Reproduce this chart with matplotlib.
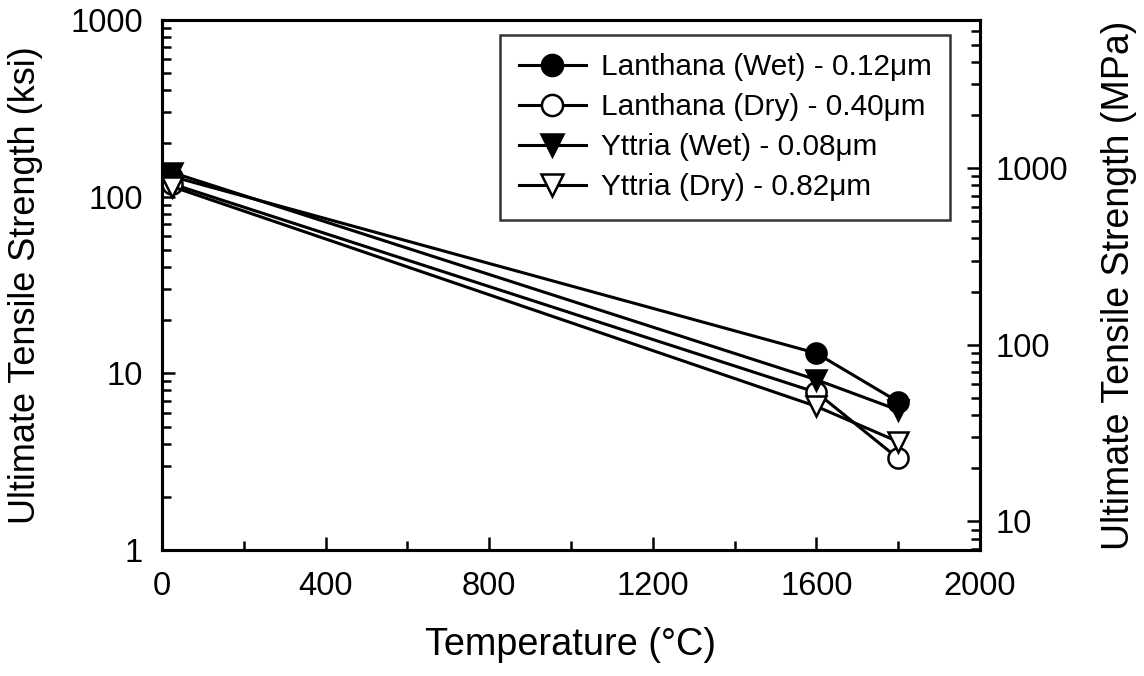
import matplotlib
matplotlib.use("Agg")
from matplotlib import pyplot as plt
from matplotlib.ticker import FixedLocator, LogLocator, NullFormatter

plt.rcParams['font.family'] = ['Liberation Sans', 'DejaVu Sans']

temps = [25, 1600, 1800]
lanthana_wet = [130, 13.0, 6.9]
lanthana_dry = [118, 7.8, 3.3]
yttria_wet = [137, 9.2, 6.2]
yttria_dry = [114, 6.5, 4.1]
labels = ["Lanthana (Wet) - 0.12\u03bcm", "Lanthana (Dry) - 0.40\u03bcm",
          "Yttria (Wet) - 0.08\u03bcm", "Yttria (Dry) - 0.82\u03bcm"]
KSI_TO_MPA = 6.895

fig = plt.figure(figsize=(11.44, 6.76), dpi=100)
ax = fig.add_axes([0.1416, 0.1864, 0.715, 0.784])

ms = 14.5
lw = 2.2
ax.plot(temps, lanthana_wet, 'o-', color='k', mfc='k', ms=ms, lw=lw, mew=1.8, label=labels[0])
ax.plot(temps, lanthana_dry, 'o-', color='k', mfc='white', ms=ms, lw=lw, mew=1.8, label=labels[1])
ax.plot(temps, yttria_wet, 'v-', color='k', mfc='k', ms=ms, lw=lw, mew=1.8, label=labels[2])
ax.plot(temps, yttria_dry, 'v-', color='k', mfc='white', ms=ms, lw=lw, mew=1.8, label=labels[3])

ax.set_yscale('log')
ax.set_ylim(1, 1000)
ax.set_xlim(0, 2000)
ax.set_xticks([0, 400, 800, 1200, 1600, 2000])
ax.xaxis.set_minor_locator(FixedLocator(range(200, 2000, 400)))
ax.set_yticks([1, 10, 100, 1000])
ax.set_yticklabels(['1', '10', '100', '1000'])
ax.yaxis.set_minor_locator(LogLocator(base=10, subs=range(2, 10)))
ax.yaxis.set_minor_formatter(NullFormatter())
ax.tick_params(which='both', direction='in', width=1.8, labelsize=23.5, right=False, top=False)
ax.tick_params(which='major', length=9.5)
ax.tick_params(which='minor', length=6.5)
ax.tick_params(axis='x', which='major', pad=15)
ax.tick_params(axis='y', which='major', pad=13.5)
for s in ax.spines.values():
    s.set_linewidth(2.2)

ax.set_xlabel("Temperature (\u00b0C)", fontsize=27.3, labelpad=18)
ax.set_ylabel("Ultimate Tensile Strength (ksi)", fontsize=26, labelpad=20)

ax2 = ax.twinx()
ax2.set_yscale('log')
ax2.set_ylim(1 * KSI_TO_MPA, 1000 * KSI_TO_MPA)
ax2.set_yticks([10, 100, 1000])
ax2.set_yticklabels(['10', '100', '1000'])
ax2.yaxis.set_minor_locator(LogLocator(base=10, subs=range(2, 10)))
ax2.yaxis.set_minor_formatter(NullFormatter())
ax2.tick_params(which='both', direction='in', width=1.8, labelsize=23.5)
ax2.tick_params(which='major', length=9.5, pad=11)
ax2.tick_params(which='minor', length=6.5)
ax2.set_ylabel("Ultimate Tensile Strength (MPa)", fontsize=27, labelpad=24)
for s in ax2.spines.values():
    s.set_linewidth(2.2)

leg = ax.legend(loc='upper right', fontsize=21.4, frameon=True, fancybox=False,
                edgecolor='k', handlelength=2.25, handletextpad=0.5, borderpad=0.62,
                labelspacing=0.4, borderaxespad=0, markerscale=1.05,
                bbox_to_anchor=(0.9633, 0.9717))
leg.get_frame().set_linewidth(1.8)

fig.savefig("out.png", dpi=100)
